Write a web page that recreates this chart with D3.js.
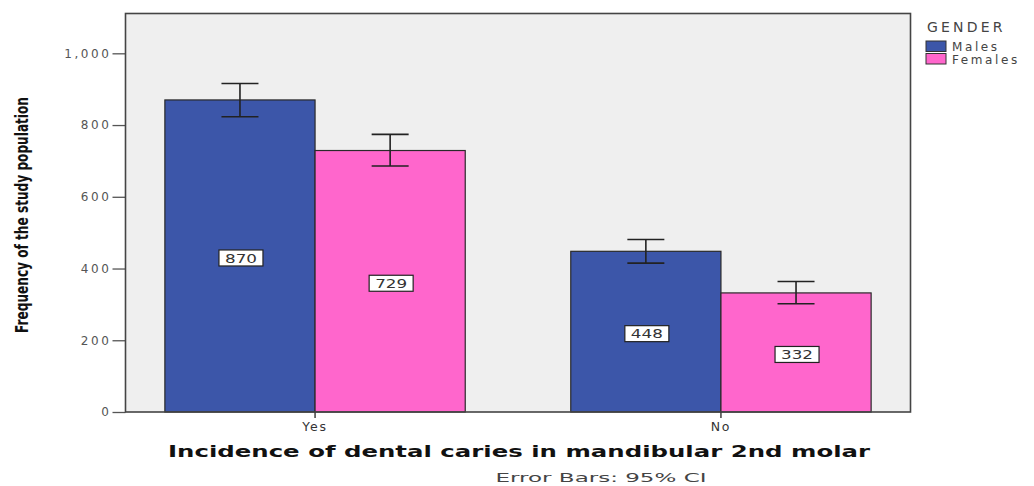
<!DOCTYPE html>
<html>
<head>
<meta charset="utf-8">
<script src="https://cdn.jsdelivr.net/npm/d3@7/dist/d3.min.js"></script>
<style>
  html, body { margin: 0; padding: 0; background: #ffffff; }
  svg { display: block; }
  text { font-family: "DejaVu Sans", Verdana, sans-serif; }
</style>
</head>
<body>
<svg id="chart" width="1034" height="486"></svg>
<script>
// Incidence categories and gender groups
const categories = ["Yes", "No"];
const genders = ["Males", "Females"];
// Counts per category, one array per gender
const males = [870, 448];
const females = [729, 332];
// 95% confidence interval bounds
const malesLow = [823, 415];
const malesHigh = [916, 481];
const femalesLow = [686, 302];
const femalesHigh = [774, 364];
const yTicks = [0, 200, 400, 600, 800, 1000];

const colors = { Males: "#3c56a9", Females: "#ff66cc" };

const rows = categories.map((c, i) => ({
  category: c,
  groups: [
    { gender: "Males", value: males[i], low: malesLow[i], high: malesHigh[i] },
    { gender: "Females", value: females[i], low: femalesLow[i], high: femalesHigh[i] }
  ]
}));

const svg = d3.select("#chart");
const plot = { left: 125.5, right: 910.5, top: 13.5, bottom: 412 };

const x = d3.scaleBand()
  .domain(categories)
  .range([plot.left, plot.right])
  .paddingInner(0.26)
  .paddingOuter(0.097);

const xg = d3.scaleBand().domain(genders).range([0, x.bandwidth()]).padding(0);

const y = d3.scaleLinear().domain([0, 1111]).range([plot.bottom, plot.top]);

// plot background
svg.append("rect")
  .attr("x", plot.left).attr("y", plot.top)
  .attr("width", plot.right - plot.left).attr("height", plot.bottom - plot.top)
  .attr("fill", "#efefef");

// bars
const groupSel = svg.append("g").selectAll("g")
  .data(rows).join("g")
  .attr("transform", d => `translate(${x(d.category)},0)`);

groupSel.selectAll("rect")
  .data(d => d.groups).join("rect")
  .attr("x", d => xg(d.gender))
  .attr("y", d => y(d.value))
  .attr("width", xg.bandwidth())
  .attr("height", d => y(0) - y(d.value))
  .attr("fill", d => colors[d.gender])
  .attr("stroke", "#2a2a2a")
  .attr("stroke-width", 1.2);

// error bars
const capW = 37;
const eb = groupSel.selectAll("g.err")
  .data(d => d.groups).join("g")
  .attr("class", "err")
  .attr("transform", d => `translate(${xg(d.gender) + xg.bandwidth() / 2},0)`)
  .attr("stroke", "#222")
  .attr("stroke-width", 1.6);
eb.append("line").attr("x1", 0).attr("x2", 0)
  .attr("y1", d => y(d.high)).attr("y2", d => y(d.low));
eb.append("line").attr("x1", -capW / 2).attr("x2", capW / 2)
  .attr("y1", d => y(d.high)).attr("y2", d => y(d.high));
eb.append("line").attr("x1", -capW / 2).attr("x2", capW / 2)
  .attr("y1", d => y(d.low)).attr("y2", d => y(d.low));

// value labels in the middle of each bar
const lab = groupSel.selectAll("g.lab")
  .data(d => d.groups).join("g")
  .attr("class", "lab")
  .attr("transform", d => `translate(${xg(d.gender) + xg.bandwidth() / 2},${(y(d.value) + y(0)) / 2 + 2})`);
lab.append("rect")
  .attr("x", -21).attr("y", -8).attr("width", 44).attr("height", 16)
  .attr("fill", "#ffffff").attr("stroke", "#222").attr("stroke-width", 1.2);
lab.append("text")
  .attr("x", 1)
  .attr("text-anchor", "middle").attr("dy", "0.37em")
  .attr("font-size", 12.5).attr("fill", "#333")
  .attr("textLength", 32).attr("lengthAdjust", "spacingAndGlyphs")
  .text(d => d.value);

// y axis
const yAxis = svg.append("g")
  .attr("transform", `translate(${plot.left},0)`)
  .call(d3.axisLeft(y).tickValues(yTicks).tickSize(13).tickPadding(1).tickFormat(d3.format(",")));
yAxis.select(".domain").remove();
yAxis.selectAll(".tick line").attr("stroke", "#555").attr("stroke-width", 1.3);
yAxis.selectAll(".tick text").attr("font-size", 12).attr("fill", "#555")
  .attr("letter-spacing", 2.6).attr("font-family", "'DejaVu Sans', Verdana, sans-serif");

// x axis
const xAxis = svg.append("g")
  .attr("transform", `translate(0,${plot.bottom})`)
  .call(d3.axisBottom(x).tickSize(6).tickPadding(4));
xAxis.select(".domain").remove();
xAxis.selectAll(".tick line").attr("stroke", "#222").attr("stroke-width", 1.3);
xAxis.selectAll(".tick text").attr("font-size", 12.5).attr("fill", "#333")
  .attr("letter-spacing", 1.8).attr("font-family", "'DejaVu Sans', Verdana, sans-serif");

// plot frame
svg.append("rect")
  .attr("x", plot.left).attr("y", plot.top)
  .attr("width", plot.right - plot.left).attr("height", plot.bottom - plot.top)
  .attr("fill", "none").attr("stroke", "#444").attr("stroke-width", 1.6);

// axis titles
svg.append("text")
  .attr("transform", "translate(22,215) rotate(-90)")
  .attr("text-anchor", "middle").attr("dominant-baseline", "central")
  .attr("font-family", "'Liberation Sans Narrow', 'Liberation Sans', Arial, sans-serif")
  .attr("font-size", 17).attr("font-weight", "bold").attr("fill", "#111")
  .attr("textLength", 236).attr("lengthAdjust", "spacingAndGlyphs")
  .text("Frequency of the study population");

svg.append("text")
  .attr("x", 519).attr("y", 457)
  .attr("text-anchor", "middle")
  .attr("font-size", 15).attr("font-weight", "bold").attr("fill", "#111")
  .attr("textLength", 702).attr("lengthAdjust", "spacingAndGlyphs")
  .text("Incidence of dental caries in mandibular 2nd molar");

svg.append("text")
  .attr("x", 601).attr("y", 482)
  .attr("text-anchor", "middle")
  .attr("font-size", 12.5).attr("fill", "#444")
  .attr("textLength", 211).attr("lengthAdjust", "spacingAndGlyphs")
  .text("Error Bars: 95% CI");

// legend
const legend = svg.append("g").attr("transform", "translate(926,0)");
legend.append("text")
  .attr("x", 1).attr("y", 32)
  .attr("font-size", 14).attr("fill", "#444").attr("letter-spacing", 3.2)
  .text("GENDER");
const li = legend.selectAll("g.item").data(genders).join("g")
  .attr("class", "item")
  .attr("transform", (d, i) => `translate(0,${41 + i * 12.5})`);
li.append("rect")
  .attr("width", 20).attr("height", 10.5)
  .attr("fill", d => colors[d]).attr("stroke", "#333").attr("stroke-width", 1);
li.append("text")
  .attr("x", 26).attr("y", 10)
  .attr("font-size", 12).attr("fill", "#444").attr("letter-spacing", 2.6)
  .text(d => d);
</script>
</body>
</html>
